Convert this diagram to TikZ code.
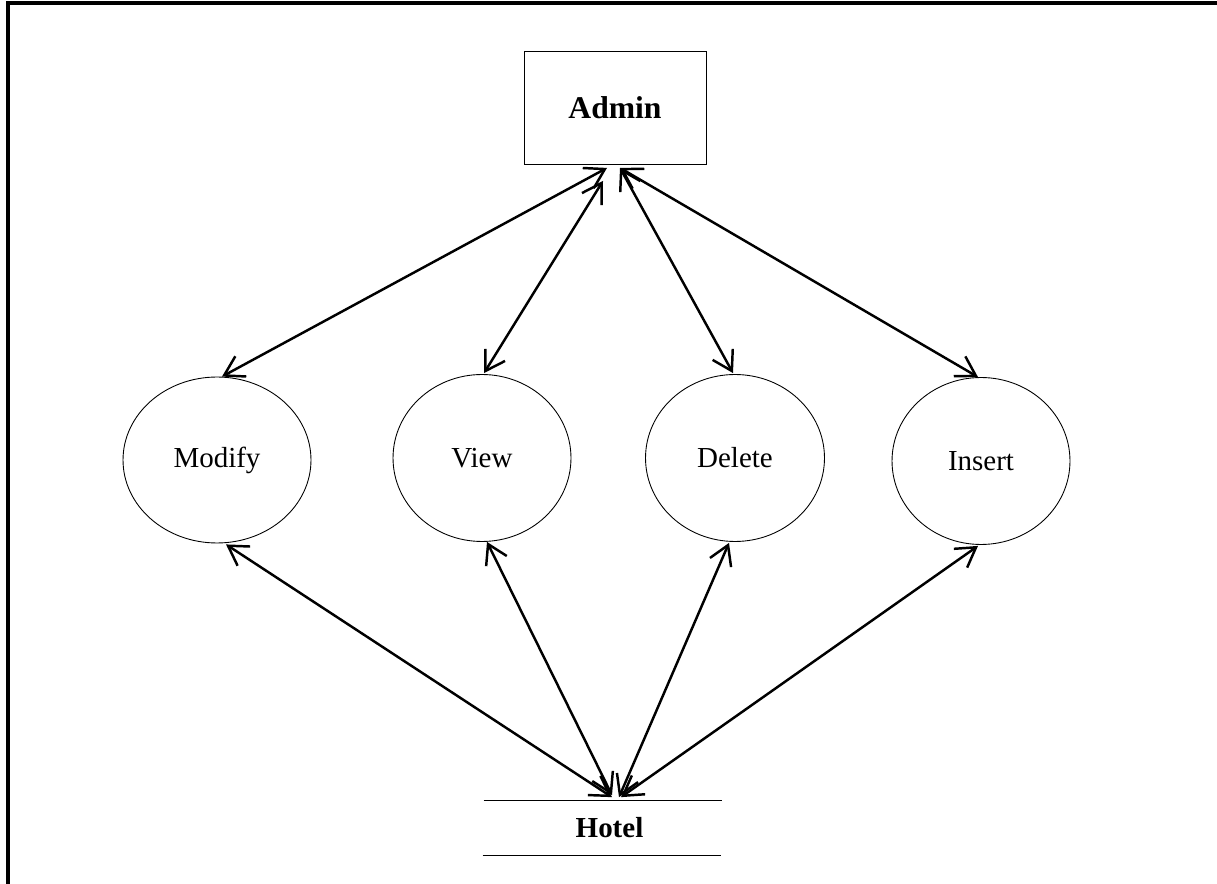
\documentclass[tikz,border=0pt]{standalone}
\usepackage{fontspec}
\setmainfont{Liberation Serif}
\usepackage{tikz}
\usetikzlibrary{positioning,shapes.geometric,arrows.meta,calc}

\begin{document}
\begin{tikzpicture}[
    x=0.02cm, y=-0.02cm,
    actor/.style={rectangle, draw, line width=0.5pt, minimum width=3.64cm, minimum height=2.26cm, font=\fontsize{18}{22}\selectfont\bfseries},
    process/.style={ellipse, draw, line width=0.5pt, inner sep=0pt, minimum width=3.6cm, minimum height=3.34cm, font=\fontsize{16.5}{20}\selectfont},
    store/.style={rectangle, inner sep=0pt, minimum width=4.76cm, minimum height=1.1cm, font=\fontsize{16.5}{20}\selectfont\bfseries},
    link/.style={{Straight Barb[length=3.8mm,width=4.6mm]}-{Straight Barb[length=3.8mm,width=4.6mm]}, line width=1.4pt},
]
\useasboundingbox (0,0) rectangle (1217,884);
\draw[line width=1.8pt] (8,3) rectangle (1240,910);

\node[actor] (admin) at (615,108) {Admin};
\node[process, minimum width=3.76cm, minimum height=3.32cm] (modify) at (217,460) {Modify};
\node[process, minimum width=3.56cm] (view) at (482,458) {View};
\node[process, minimum width=3.58cm] (delete) at (735,458) {Delete};
\node[process, minimum width=3.56cm] (insert) at (981,461) {Insert};
\node[store] (hotel) at (602,828) {\hspace*{0.3cm}Hotel};
\draw[line width=0.6pt] ($(hotel.north west)+(1,0)$) -- ($(hotel.north east)+(1,0)$);
\draw[line width=0.6pt] (hotel.south west) -- (hotel.south east);

% admin side
\draw[link] ($(modify.north)+(5,0)$) -- ($(admin.south)+(-8,3)$);
\draw[link] ($(view.north)+(2,-1)$) -- ($(admin.south)+(-12,16)$);
\draw[link] ($(delete.north)+(-2,-1)$) -- ($(admin.south)+(5,3)$);
\draw[link] ($(insert.north)+(-3,0)$) -- ($(admin.south)+(5,3)$);

% hotel side
\draw[link] ($(modify.south)+(9,1)$) -- ($(hotel.north)+(10,-3)$);
\draw[link] ($(view.south)+(5,0)$) -- ($(hotel.north)+(10,-5)$);
\draw[link] ($(delete.south)+(-6,1)$) -- ($(hotel.north)+(17,-3)$);
\draw[link] ($(insert.south)+(-3,1)$) -- ($(hotel.north)+(19,-3)$);
\end{tikzpicture}
\end{document}
